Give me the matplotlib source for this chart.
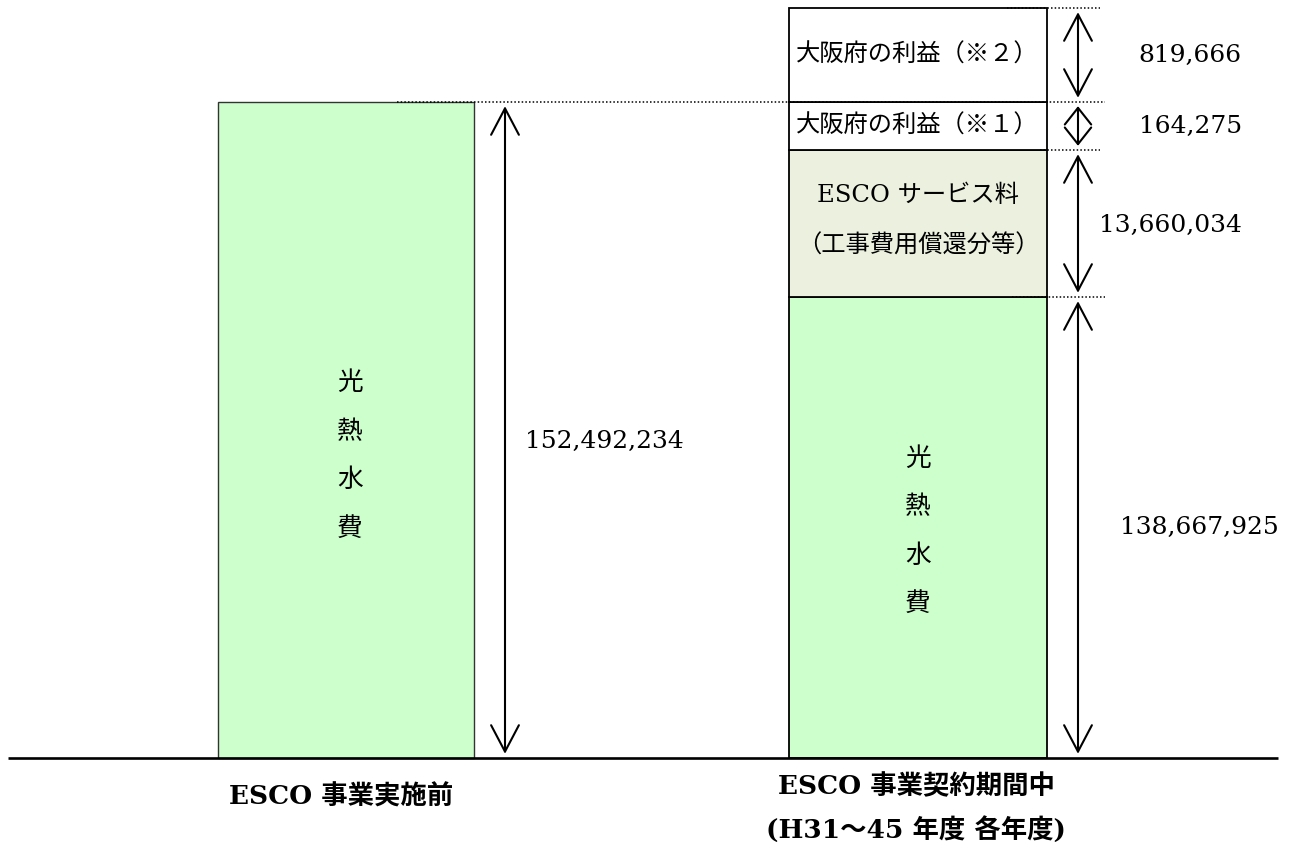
import matplotlib
matplotlib.use("Agg")
import matplotlib.pyplot as plt

# ---------------- data ----------------
categories = ["ESCO 事業実施前", "ESCO 事業契約期間中\n(H31～45 年度 各年度)"]
before_values = [152492234]
before_labels = ["光\n熱\n水\n費"]
after_values = [138667925, 13660034, 164275, 819666]
after_labels = ["光\n熱\n水\n費", "ESCO サービス料\n（工事費用償還分等）",
                "大阪府の利益（※１）", "大阪府の利益（※２）"]
# schematic (not-to-scale) heights used in the original diagram
before_heights = [656]
after_heights = [461, 147, 48, 94]

# ---------------- figure ----------------
W, H = 1293, 852
fig = plt.figure(figsize=(W / 100, H / 100), dpi=100)
ax = fig.add_axes([0, 0, 1, 1])
ax.set_xlim(0, W)
ax.set_ylim(-94, H - 94)
ax.axis("off")

CJK = "Noto Sans CJK JP"
MIX = ["DejaVu Serif", "Noto Sans CJK JP"]

green = "#CCFFCC"
olive = "#EBF1DE"
after_colors = [green, olive, "white", "white"]

x_left, w_left = 346, 256
x_right, w_right = 918, 258
arrow_left_x = 505
arrow_right_x = 1078

# left bar
ax.bar([x_left], before_heights, width=w_left, bottom=0, color=green,
       edgecolor="#333333", linewidth=1.0, zorder=2)

# right stacked bar
bottoms = []
b = 0
for h in after_heights:
    bottoms.append(b)
    b += h
ax.bar([x_right] * len(after_heights), after_heights, width=w_right,
       bottom=bottoms, color=after_colors, edgecolor="black",
       linewidth=1.3, zorder=2)

# baseline
ax.plot([8, 1278], [0, 0], color="black", lw=1.9, zorder=4,
        solid_capstyle="butt")

# dotted guide lines
dot = (0, (1, 1.4))
left_top = before_heights[0]
tops = [bottoms[i] + after_heights[i] for i in range(len(after_heights))]
ax.plot([397, 1105], [left_top, left_top], color="black", lw=1.1, ls=dot, zorder=3)
ax.plot([1007, 1100], [tops[3], tops[3]], color="black", lw=1.1, ls=dot, zorder=3)
ax.plot([1040, 1100], [tops[1], tops[1]], color="black", lw=1.1, ls=dot, zorder=3)
ax.plot([1012, 1105], [tops[0], tops[0]], color="black", lw=1.1, ls=dot, zorder=3)


def darrow(x, y0, y1, hl=19, hw=10):
    ax.annotate("", xy=(x, y1), xytext=(x, y0),
                arrowprops=dict(arrowstyle=f"<->,head_length={hl},head_width={hw}",
                                mutation_scale=1, lw=1.5, color="black",
                                shrinkA=3, shrinkB=3), zorder=5)


darrow(arrow_left_x, 0, before_heights[0])
for i, h in enumerate(after_heights):
    if h < 60:
        darrow(arrow_right_x, bottoms[i], bottoms[i] + h, hl=12, hw=9.5)
    else:
        darrow(arrow_right_x, bottoms[i], bottoms[i] + h)

# value labels
num_font = dict(family="DejaVu Serif", fontsize=18, color="black")
ax.text(arrow_left_x + 20, before_heights[0] * 0.482, f"{before_values[0]:,}",
        ha="left", va="center", **num_font)
for i, v in enumerate(after_values):
    yc = bottoms[i] + after_heights[i] / 2
    if i == 0:
        ax.text(1120, yc, f"{v:,}", ha="left", va="center", **num_font)
    else:
        ax.text(1242, yc + (-2 if i == 1 else 0), f"{v:,}", ha="right",
                va="center", **num_font)

# in-bar labels
ax.text(x_left + 4, before_heights[0] * 0.465 - 3, before_labels[0], ha="center",
        va="center", family=CJK, fontsize=18.5, linespacing=2.12)
ax.text(x_right, after_heights[0] / 2 - 4, after_labels[0], ha="center",
        va="center", family=CJK, fontsize=18.5, linespacing=2.12)
ax.text(x_right, bottoms[1] + after_heights[1] / 2 + 3, after_labels[1],
        ha="center", va="center", family=MIX, fontsize=17.5, linespacing=2.5)
ax.text(x_right - 1, bottoms[2] + after_heights[2] / 2, after_labels[2],
        ha="center", va="center", family=CJK, fontsize=17.5)
ax.text(x_right - 1, bottoms[3] + after_heights[3] / 2, after_labels[3],
        ha="center", va="center", family=CJK, fontsize=17.5)

# category labels
ax.text(341, -39, categories[0], ha="center", va="center", family=MIX,
        fontsize=19, fontweight="bold")
ax.text(916, -50, categories[1], ha="center", va="center", family=MIX,
        fontsize=19, fontweight="bold", linespacing=1.75)

fig.savefig("out.png", dpi=100)
